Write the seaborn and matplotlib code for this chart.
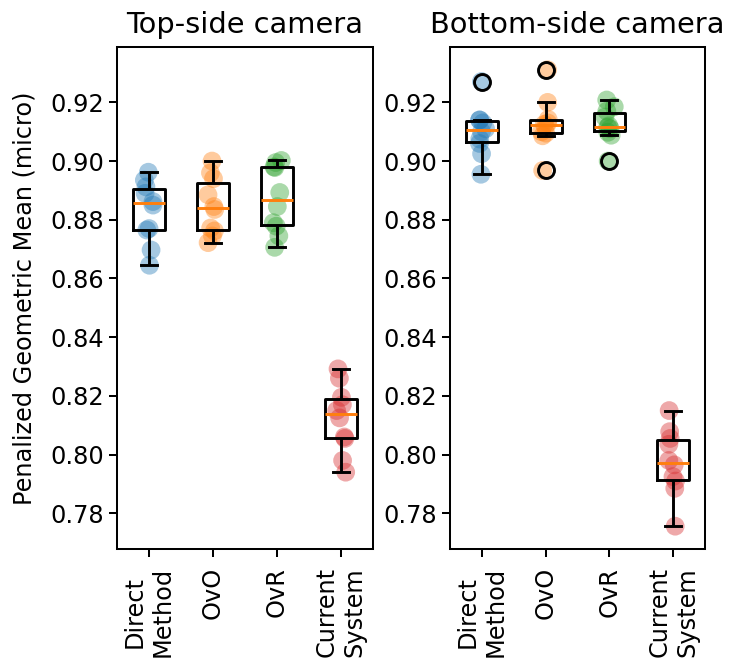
import numpy as np
import pandas as pd
import matplotlib
matplotlib.use("Agg")
import matplotlib.pyplot as plt
import seaborn as sns

# Penalized geometric mean (micro) per cross-validation fold
methods = ["Direct\nMethod", "OvO", "OvR", "Current\nSystem"]

top_direct = [0.8645, 0.8697, 0.8765, 0.8770, 0.8850, 0.8862, 0.8890, 0.8912, 0.8935, 0.8962]
top_ovo = [0.8722, 0.8745, 0.8762, 0.8772, 0.8835, 0.8845, 0.8885, 0.8940, 0.8960, 0.9000]
top_ovr = [0.8706, 0.8745, 0.8778, 0.8790, 0.8845, 0.8893, 0.8978, 0.8980, 0.8995, 0.9002]
top_current = [0.7940, 0.7980, 0.8055, 0.8060, 0.8125, 0.8150, 0.8170, 0.8195, 0.8260, 0.8292]

bottom_direct = [0.8955, 0.9025, 0.9060, 0.9075, 0.9100, 0.9110, 0.9130, 0.9140, 0.9140, 0.9271]
bottom_ovo = [0.8968, 0.9086, 0.9095, 0.9100, 0.9118, 0.9125, 0.9130, 0.9142, 0.9200, 0.9311]
bottom_ovr = [0.9000, 0.9088, 0.9098, 0.9110, 0.9115, 0.9120, 0.9150, 0.9170, 0.9185, 0.9208]
bottom_current = [0.7756, 0.7885, 0.7910, 0.7925, 0.7965, 0.7980, 0.8035, 0.8055, 0.8078, 0.8150]

panels = {
    "Top-side camera": [top_direct, top_ovo, top_ovr, top_current],
    "Bottom-side camera": [bottom_direct, bottom_ovo, bottom_ovr, bottom_current],
}
ylabel = "Penalized Geometric Mean (micro)"


def long_frame(groups):
    rows = []
    for name, vals in zip(methods, groups):
        for v in vals:
            rows.append({"method": name, "score": v})
    return pd.DataFrame(rows)


base_size = 17.3
plt.rcParams["font.family"] = ["DejaVu Sans"]
plt.rcParams["font.size"] = base_size
plt.rcParams["axes.linewidth"] = 1.45

fig = plt.figure(figsize=(7.31, 6.65), dpi=100)
axes = [
    fig.add_axes([0.160, 0.1744, 0.350, 0.755]),
    fig.add_axes([0.6156, 0.1744, 0.349, 0.755]),
]

all_vals = np.concatenate([np.concatenate(g) for g in panels.values()])
lo, hi = all_vals.min(), all_vals.max()
pad = 0.05 * (hi - lo)

np.random.seed(3)
palette = sns.color_palette("tab10", 4)

for ax, (title, groups) in zip(axes, panels.items()):
    df = long_frame(groups)
    sns.stripplot(
        data=df, x="method", y="score", hue="method", palette=palette,
        order=methods, hue_order=methods, jitter=0.08, size=13.5,
        alpha=0.4, linewidth=0, legend=False, ax=ax, zorder=1,
    )
    sns.boxplot(
        data=df, x="method", y="score", order=methods, width=0.5,
        fill=False, color="black", linewidth=2.1, whis=1.5, ax=ax,
        medianprops=dict(color="#ff7f0e", linewidth=2.1),
        capprops=dict(color="black", linewidth=2.1),
        whiskerprops=dict(color="black", linewidth=2.1),
        flierprops=dict(marker="o", markerfacecolor="none",
                        markeredgecolor="black", markersize=11.5,
                        markeredgewidth=2.1),
    )
    ax.set_xlim(-0.5, 3.5)
    ax.set_ylim(lo - pad, hi + pad)
    ax.set_yticks(np.arange(0.78, 0.93, 0.02))
    ax.set_title(title, fontsize=base_size * 1.2, pad=10)
    ax.set_xlabel("")
    ax.set_ylabel("")
    ax.tick_params(axis="x", labelrotation=90, pad=7)
    ax.tick_params(length=6, width=1.45, labelsize=base_size)
    for lab in ax.get_xticklabels():
        lab.set_horizontalalignment("center")
        lab.set_verticalalignment("top")
    for s in ax.spines.values():
        s.set_linewidth(1.45)

axes[0].set_ylabel(ylabel, fontsize=base_size, labelpad=10)

fig.savefig("out.png", dpi=100)
